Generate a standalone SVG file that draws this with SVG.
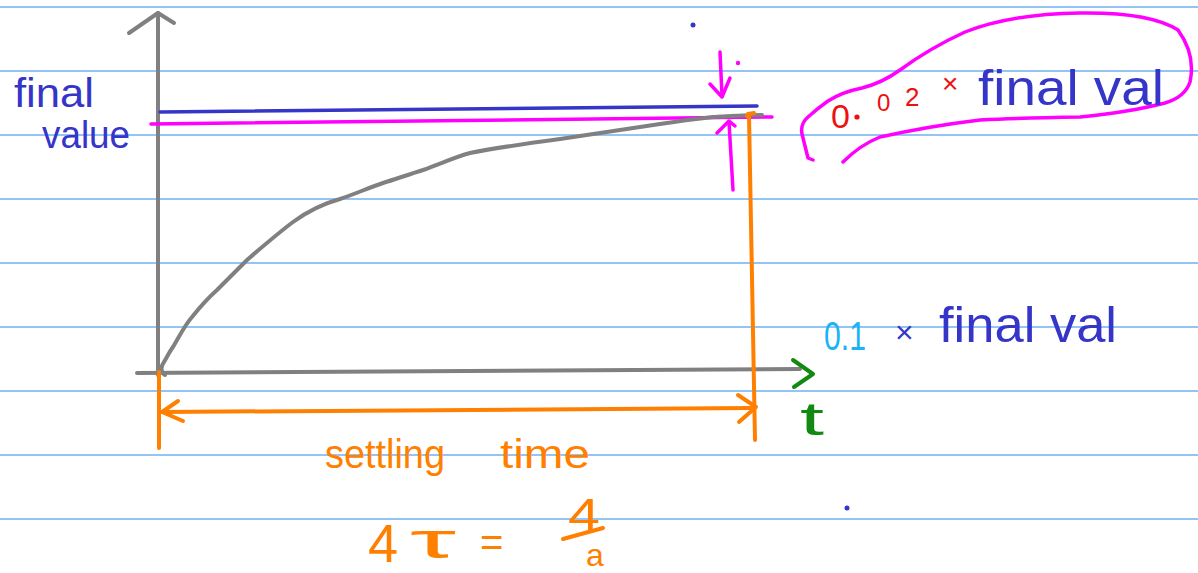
<svg xmlns="http://www.w3.org/2000/svg" width="1198" height="573" viewBox="0 0 1198 573">
<style>
.rule{stroke:#6fb0f2;stroke-width:1.6}
.ln{fill:none;stroke-linecap:round;stroke-linejoin:round}
.gray{stroke:#808080;stroke-width:4}
.blue{stroke:#3535c8;stroke-width:3.5}
.mag{stroke:#ff00ff;stroke-width:3.5}
.org{stroke:#ff8000;stroke-width:4}
.grn{stroke:#128a12;stroke-width:4}
.hw{font-family:"Liberation Sans","Noto Sans",sans-serif}
.tb{fill:#3535c8}
.tr{fill:#ee1010}
.to{fill:#ff8000}
.tc{fill:#18b4f5}
.tg{fill:#128a12}
</style>
<rect width="1198" height="573" fill="#ffffff"/>
<g id="paper">
<line class="rule" x1="0" y1="7" x2="1198" y2="7"/>
<line class="rule" x1="0" y1="71" x2="1198" y2="71"/>
<line class="rule" x1="0" y1="135" x2="1198" y2="135"/>
<line class="rule" x1="0" y1="199" x2="1198" y2="199"/>
<line class="rule" x1="0" y1="263" x2="1198" y2="263"/>
<line class="rule" x1="0" y1="327" x2="1198" y2="327"/>
<line class="rule" x1="0" y1="391" x2="1198" y2="391"/>
<line class="rule" x1="0" y1="455" x2="1198" y2="455"/>
<line class="rule" x1="0" y1="519" x2="1198" y2="519"/>
</g>
<g id="connectors">
<g id="axes">
<path class="ln gray" d="M158,375 L158,13"/>
<path class="ln gray" d="M129,33 L158,13 L174,23"/>
<path class="ln gray" d="M137,373 L800,369"/>
<path class="ln grn" d="M793,360 L813,374 L794,387"/>
</g>
<g id="final-value-lines">
<path class="ln blue" d="M160,112 L757,106"/>
<path class="ln mag" d="M151,124 L772,117"/>
</g>
<g id="response-curve">
<path class="ln gray" d="M165,375 C160,372 161,366 164,362 C168,355 170,351 173,347 C180,335 185,325 192,317 C200,307 208,298 217,290 C227,280 237,270 247,260 C262,247 277,234 293,222 C308,211 322,204 340,199 C355,194 368,188 383,183 C396,179 410,174 423,170 C440,164 455,157 470,153 C500,147 530,143 560,139 C595,134 625,129 660,124 C680,121 695,119 713,117 C730,116 745,115 762,115"/>
</g>
<g id="tolerance-arrows">
<path class="ln mag" d="M720,52 L722,96"/>
<path class="ln mag" d="M710,84 L722,97 L730,78"/>
<circle cx="738" cy="63" r="2.2" fill="#ff00ff"/>
<path class="ln mag" d="M733,190 L729,122"/>
<path class="ln mag" d="M717,133 L729,121 L735,126"/>
</g>
<g id="settling-markers">
<path class="ln org" d="M159,372 L159,448"/>
<path class="ln org" d="M747,116 L748,114 L754,113"/>
<path class="ln org" d="M749,115 L755,440"/>
<path class="ln org" d="M162,412 L752,408"/>
<path class="ln org" d="M178,401 L162,412 L183,421"/>
<path class="ln org" d="M738,395 L756,407 L739,422"/>
</g>
<g id="callout-loop">
<path class="ln mag" d="M813,160 L808,158 L802,134 Q800,124 808,117 Q818,108 828,101 Q842,92 862,88 Q882,83 900,70 Q930,48 965,32 Q1010,14 1080,13 Q1150,12 1178,30 Q1196,55 1190,82 Q1185,97 1165,103 Q1130,112 1080,117 Q1020,118 980,120 Q930,126 880,137 Q860,145 843,162"/>
</g>
</g>
<g id="label-final-value">
<text class="hw tb" x="14" y="107" font-size="40" textLength="80" lengthAdjust="spacingAndGlyphs">final</text>
<text class="hw tb" x="42" y="148" font-size="38" textLength="88" lengthAdjust="spacingAndGlyphs">value</text>
</g>
<g id="label-002">
<text class="hw tr" x="831" y="128" font-size="34">0</text>
<circle cx="857" cy="117" r="2.6" fill="#ee1010"/>
<text class="hw tr" x="877" y="111" font-size="24">0</text>
<text class="hw tr" x="905" y="106" font-size="26">2</text>
<text class="hw tr" x="942" y="93" font-size="28">×</text>
<text class="hw tb" x="978" y="105" font-size="50" textLength="186" lengthAdjust="spacingAndGlyphs">final val</text>
</g>
<g id="label-01">
<text class="hw tc" x="824" y="350" font-size="40" textLength="42" lengthAdjust="spacingAndGlyphs">0.1</text>
<text class="hw tb" x="895" y="343" font-size="32">×</text>
<text class="hw tb" x="939" y="342" font-size="50" textLength="178" lengthAdjust="spacingAndGlyphs">final val</text>
</g>
<g id="label-t">
<text class="hw tg" x="800" y="435" font-size="46" textLength="24" lengthAdjust="spacingAndGlyphs">t</text>
</g>
<g id="label-settling">
<text class="hw to" x="325" y="468" font-size="40" textLength="120" lengthAdjust="spacingAndGlyphs">settling</text>
<text class="hw to" x="500" y="468" font-size="40" textLength="90" lengthAdjust="spacingAndGlyphs">time</text>
</g>
<g id="label-formula">
<text class="hw to" x="368" y="562" font-size="54">4</text>
<text class="hw to" x="410" y="558" font-size="50" textLength="46" lengthAdjust="spacingAndGlyphs">τ</text>
<text class="hw to" x="480" y="556" font-size="40">=</text>
<text class="hw to" x="568" y="530" font-size="44" textLength="32" lengthAdjust="spacingAndGlyphs">4</text>
<path class="ln org" d="M563,539 L603,528"/>
<text class="hw to" x="586" y="566" font-size="32">a</text>
</g>
<g id="dots">
<circle cx="693" cy="25" r="2.5" fill="#3535c8"/>
<circle cx="847" cy="508" r="2.5" fill="#3535c8"/>
</g>
</svg>
